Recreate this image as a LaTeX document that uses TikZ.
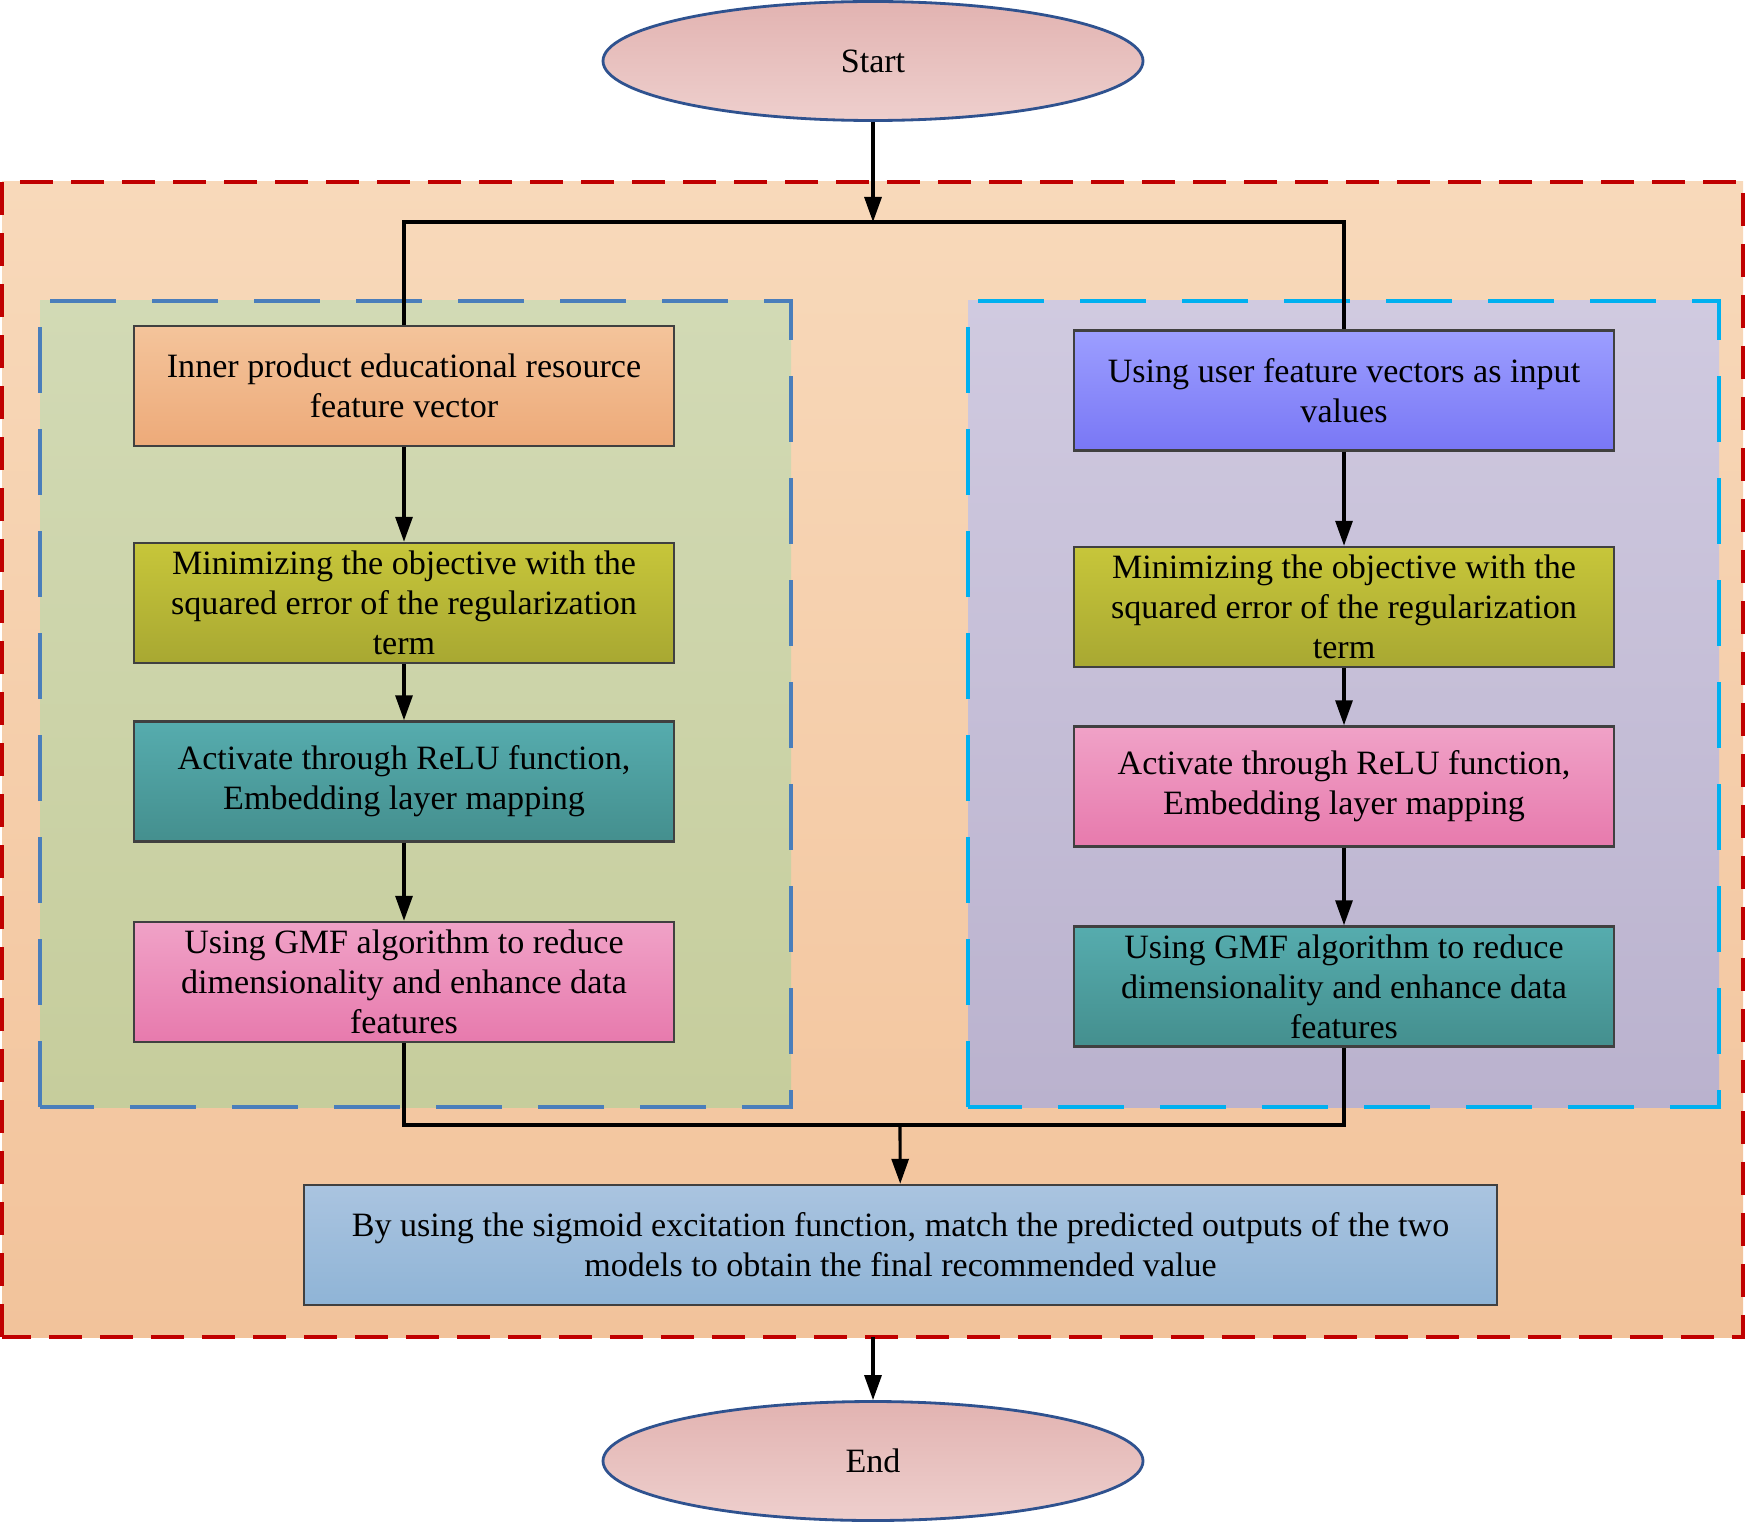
\documentclass[tikz,border=0pt]{standalone}
\usepackage{fontspec}
\setmainfont{Liberation Serif}
\usetikzlibrary{arrows.meta}
\usetikzlibrary{shapes.geometric}

\definecolor{termtop}{HTML}{E2B3B1}
\definecolor{termbot}{HTML}{EECFCD}
\definecolor{termline}{HTML}{2F528F}
\definecolor{outertop}{HTML}{F8D9BA}
\definecolor{outerbot}{HTML}{F2C39B}
\definecolor{outerline}{HTML}{C00000}
\definecolor{lefttop}{HTML}{D2DAB5}
\definecolor{leftbot}{HTML}{C6CD9C}
\definecolor{leftline}{HTML}{4A7EBB}
\definecolor{righttop}{HTML}{D0CAE0}
\definecolor{rightbot}{HTML}{BAB2CE}
\definecolor{rightline}{HTML}{00B0F0}
\definecolor{boxline}{HTML}{404040}

\begin{document}
\begin{tikzpicture}[
    box/.style={draw=boxline, line width=0.7pt, minimum width=5.4cm, minimum height=1.2cm,
        align=center, inner sep=0pt, font=\fontsize{9.7}{11.4}\selectfont},
    orangebox/.style={box, top color={rgb,255:red,244;green,196;blue,155}, bottom color={rgb,255:red,237;green,170;blue,121}},
    olivebox/.style={box, top color={rgb,255:red,199;green,198;blue,58}, bottom color={rgb,255:red,168;green,168;blue,50}},
    tealbox/.style={box, top color={rgb,255:red,86;green,172;blue,174}, bottom color={rgb,255:red,68;green,143;blue,142}},
    pinkbox/.style={box, top color={rgb,255:red,240;green,162;blue,199}, bottom color={rgb,255:red,231;green,122;blue,173}},
    violetbox/.style={box, top color={rgb,255:red,156;green,158;blue,255}, bottom color={rgb,255:red,121;green,119;blue,245}},
    bluebox/.style={box, top color={rgb,255:red,170;green,196;blue,224}, bottom color={rgb,255:red,143;green,180;blue,214}},
    term/.style={ellipse, draw=termline, line width=0.8pt, top color=termtop, bottom color=termbot,
        minimum width=5.4cm, minimum height=1.19cm, inner sep=0pt, font=\fontsize{9.7}{11.4}\selectfont},
    conn/.style={black, line width=0.9pt},
    arr/.style={conn, -{Triangle[length=0.25cm, width=0.17cm]}},
]
    \useasboundingbox (0,0) rectangle (17.5,15.23);

    % the three dashed regions
    \draw [outerline, line width=1.15pt, dash pattern=on 0.33cm off 0.18cm, top color=outertop, bottom color=outerbot]
        (0.02,1.86) rectangle (17.43,13.41);
    \draw [leftline, line width=1pt, dash pattern=on 0.66cm off 0.36cm, top color=lefttop, bottom color=leftbot]
        (0.40,4.16) rectangle (7.91,12.22);
    \draw [rightline, line width=1pt, dash pattern=on 0.66cm off 0.36cm, top color=righttop, bottom color=rightbot]
        (9.68,4.16) rectangle (17.19,12.22);

    \node[term] (start) at (8.73,14.62) {Start};
    \node[term] (end) at (8.73,0.62) {End};

    \node[orangebox] (L1) at (4.04,11.37) {Inner product educational resource\\feature vector};
    \node[olivebox] (L2) at (4.04,9.20) {Minimizing the objective with the\\squared error of the regularization\\term};
    \node[tealbox] (L3) at (4.04,7.415) {Activate through ReLU function,\\Embedding layer mapping};
    \node[pinkbox] (L4) at (4.04,5.41) {Using GMF algorithm to reduce\\dimensionality and enhance data\\features};

    \node[violetbox] (R1) at (13.44,11.325) {Using user feature vectors as input\\values};
    \node[olivebox] (R2) at (13.44,9.16) {Minimizing the objective with the\\squared error of the regularization\\term};
    \node[pinkbox] (R3) at (13.44,7.365) {Activate through ReLU function,\\Embedding layer mapping};
    \node[tealbox] (R4) at (13.44,5.365) {Using GMF algorithm to reduce\\dimensionality and enhance data\\features};

    \node[bluebox, minimum width=11.93cm] (final) at (9.005,2.78)
        {By using the sigmoid excitation function, match the predicted outputs of the two\\models to obtain the final recommended value};

    \coordinate (split) at (8.73,13.01);
    \coordinate (merge) at (9.00,3.98);
    \coordinate (outbot) at (8.73,1.86);

    \draw [arr] (start) -- (split);
    \draw [conn] (L1.north) -- (L1.north |- split) -- (R1.north |- split) -- (R1.north);
    \draw [arr] (L1) -- (L2);
    \draw [arr] (L2) -- (L3);
    \draw [arr] (L3) -- (L4);
    \draw [arr] (R1) -- (R2);
    \draw [arr] (R2) -- (R3);
    \draw [arr] (R3) -- (R4);
    \draw [conn] (L4.south) -- (L4.south |- merge) -- (R4.south |- merge) -- (R4.south);
    \draw [arr] (merge) -- (final);
    \draw [arr] (outbot) -- (end);
\end{tikzpicture}
\end{document}
